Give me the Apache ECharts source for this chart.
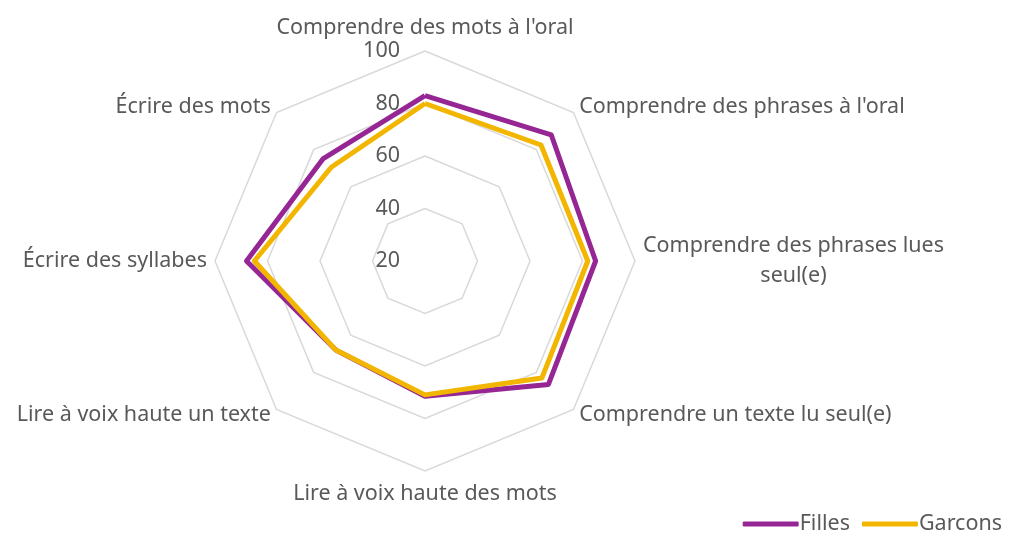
<!DOCTYPE html>
<html>
<head>
<meta charset="UTF-8"/>
<script src="https://cdn.jsdelivr.net/npm/echarts@6/dist/echarts.min.js"></script>
<style>
  html, body { margin: 0; padding: 0; background: #fff; }
  #main { width: 1009px; height: 540px; }
</style>
</head>
<body>
<div id="main"></div>
<script type="text/javascript">
// axes, clockwise from the top, as in the source chart
var categories = [
    "Comprendre des mots à l'oral",
    "Comprendre des phrases à l'oral",
    "Comprendre des phrases lues\nseul(e)",
    "Comprendre un texte lu seul(e)",
    "Lire à voix haute des mots",
    "Lire à voix haute un texte",
    "Écrire des syllabes",
    "Écrire des mots"
];
var filles = [83, 88, 85, 86.5, 71.5, 68, 88, 75];
var garcons = [80, 82.5, 82, 83, 71, 68, 85, 70.5];
var axisMin = 20, axisMax = 100;

// echarts goes counter-clockwise, so keep the first axis and reverse the rest
function ccw(arr) {
    return [arr[0]].concat(arr.slice(1).reverse());
}

var myChart = echarts.init(document.getElementById('main'));
var font = '"Noto Sans", sans-serif';
var txt = '#595959';
var fs = 21.5;
var option = {
    textStyle: {fontFamily: font},
    legend: {
        right: 2,
        bottom: 0,
        itemWidth: 56,
        itemHeight: 5,
        itemGap: 12,
        icon: 'roundRect',
        textStyle: {fontSize: fs, color: txt, fontFamily: font, padding: [0, 0, 0, -4]},
        data: ['Filles', 'Garcons']
    },
    radar: {
        center: [425, 261],
        radius: 210,
        startAngle: 90,
        splitNumber: 4,
        shape: 'polygon',
        indicator: ccw(categories).map(function (c, i) {
            return {name: c, min: axisMin, max: axisMax, axisLabel: {show: i === 0}};
        }),
        axisName: {
            color: txt,
            fontSize: fs,
            fontFamily: font,
            formatter: function (name) {
                // center every line of a wrapped name
                return name.split('\n').map(function (s) { return '{c|' + s + '}'; }).join('\n');
            },
            rich: {
                c: {align: 'center', color: txt, fontSize: fs, fontFamily: font, lineHeight: 30}
            }
        },
        nameGap: 8,
        axisLine: {show: false},
        axisTick: {show: false},
        splitLine: {lineStyle: {color: '#d9d9d9', width: 1.5}},
        splitArea: {show: false},
        axisLabel: {show: false, color: txt, fontSize: fs, fontFamily: font, margin: 25}
    },
    series: [{
        type: 'radar',
        symbol: 'none',
        data: [
            {name: 'Filles', value: ccw(filles), lineStyle: {color: '#952694', width: 5}, itemStyle: {color: '#952694'}},
            {name: 'Garcons', value: ccw(garcons), lineStyle: {color: '#f2b500', width: 5}, itemStyle: {color: '#f2b500'}}
        ]
    }]
};
myChart.setOption(option);
</script>
</body>
</html>
